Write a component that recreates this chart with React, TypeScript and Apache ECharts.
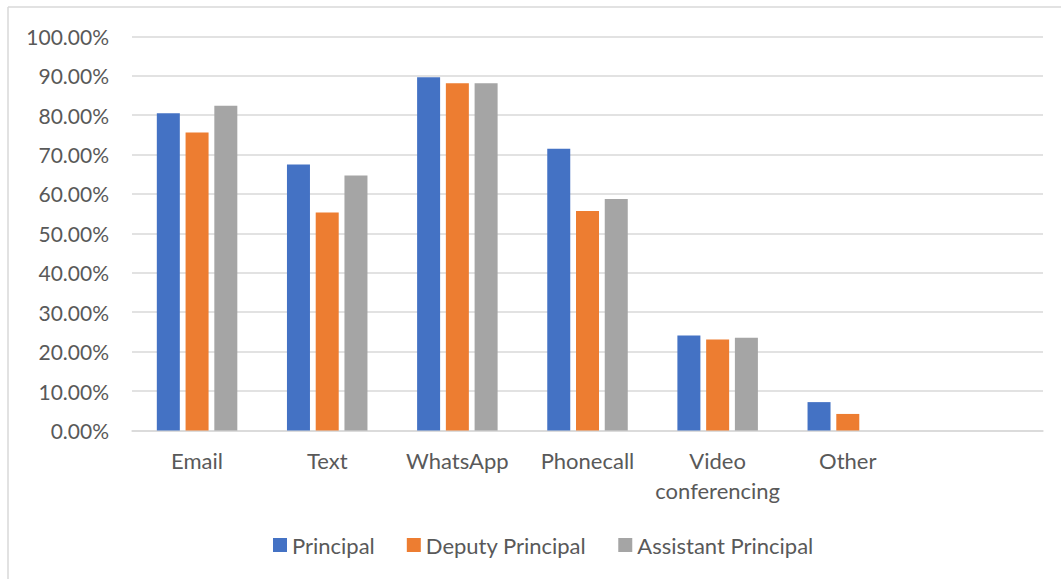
import React, { useEffect, useRef } from "react";
import * as echarts from "echarts";

const categories = ["Email", "Text", "WhatsApp", "Phonecall", "Video\nconferencing", "Other", ""];
const principal = [80.5, 67.5, 89.6, 71.5, 24.1, 7.2, null];
const deputyPrincipal = [75.6, 55.3, 88.1, 55.7, 23.1, 4.2, null];
const assistantPrincipal = [82.4, 64.7, 88.1, 58.7, 23.5, null, null];
const seriesNames = ["Principal", "Deputy Principal", "Assistant Principal"];
const colors = ["#4472C4", "#ED7D31", "#A5A5A5"];

export default function App() {
  const ref = useRef<HTMLDivElement>(null);
  useEffect(() => {
    if (!ref.current) return;
    const chart = echarts.init(ref.current, undefined, { renderer: "svg" });
    const font = "Lato, 'Noto Sans', sans-serif";
    const mk = (name: string, data: (number | null)[], color: string) => ({
      name,
      type: "bar",
      data,
      barWidth: 23,
      barGap: "25%",
      itemStyle: { color },
    });
    chart.setOption({
      animation: false,
      backgroundColor: "#fff",
      color: colors,
      textStyle: { fontFamily: font },
      grid: { left: 132, right: 18, top: 36.3, bottom: 148.5, containLabel: false },
      graphic: [
        { type: "line", shape: { x1: 8, y1: 7, x2: 1061, y2: 7 }, style: { stroke: "#d9d9d9", lineWidth: 1.5 } },
        { type: "line", shape: { x1: 8, y1: 7, x2: 8, y2: 579 }, style: { stroke: "#d9d9d9", lineWidth: 1.5 } },
      ],
      legend: {
        left: 268,
        top: 529,
        itemWidth: 14,
        itemHeight: 14,
        itemGap: 32,
        icon: "rect",
        data: seriesNames,
        textStyle: { fontFamily: font, fontSize: 22, color: "#595959" },
      },
      xAxis: {
        type: "category",
        data: categories,
        axisLine: { show: true, lineStyle: { color: "#d9d9d9", width: 1.5 } },
        axisTick: { show: false },
        axisLabel: {
          interval: 0,
          margin: 15,
          fontFamily: font,
          fontSize: 22,
          lineHeight: 30,
          color: "#595959",
        },
      },
      yAxis: {
        type: "value",
        min: 0,
        max: 100,
        interval: 10,
        axisLine: { show: false },
        axisTick: { show: false },
        splitLine: { lineStyle: { color: "#d9d9d9", width: 1.5 } },
        axisLabel: {
          margin: 23,
          fontFamily: font,
          fontSize: 21,
          color: "#595959",
          formatter: (v: number) => v.toFixed(2) + "%",
        },
      },
      series: [
        mk(seriesNames[0], principal, colors[0]),
        mk(seriesNames[1], deputyPrincipal, colors[1]),
        mk(seriesNames[2], assistantPrincipal, colors[2]),
      ],
    });
    return () => chart.dispose();
  }, []);
  return (
    <div
      ref={ref}
      style={{ position: "fixed", left: 0, top: 0, width: 1061, height: 579 }}
    />
  );
}
